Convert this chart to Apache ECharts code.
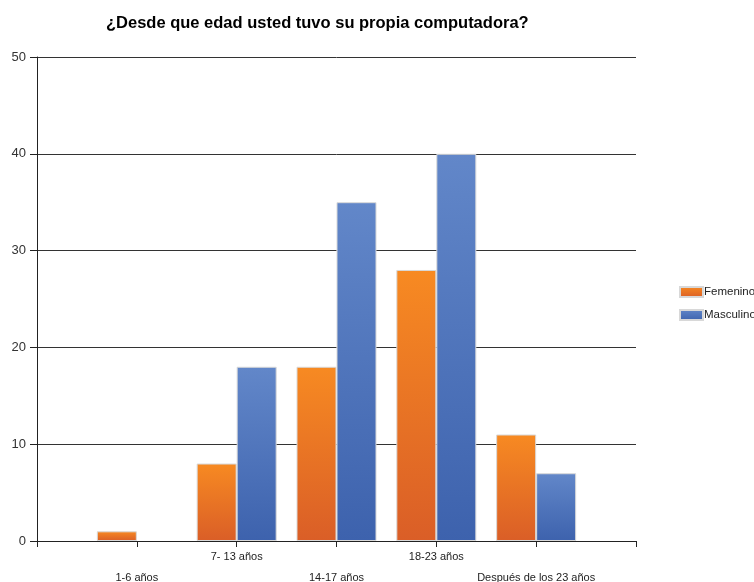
<!DOCTYPE html>
<html>
<head>
<meta charset="utf-8">
<script src="https://cdn.jsdelivr.net/npm/echarts@6/dist/echarts.min.js"></script>
<style>
  html, body { margin: 0; padding: 0; background: #fff; }
  #chart { width: 754px; height: 582px; }
</style>
</head>
<body>
<div id="chart"></div>
<script>
// Age groups; empty slots at both ends keep the groups off the axis edges
const categories = ['', '1-6 años', '7- 13 años', '14-17 años', '18-23 años', 'Después de los 23 años', ''];
const femenino = [null, 1, 8, 18, 28, 11, null];
const masculino = [null, 0, 18, 35, 40, 7, null];
const yTicks = [0, 10, 20, 30, 40, 50];

const orange = new echarts.graphic.LinearGradient(0, 0, 0, 1, [
  { offset: 0, color: '#F78A22' },
  { offset: 1, color: '#DA5E27' }
]);
const blue = new echarts.graphic.LinearGradient(0, 0, 0, 1, [
  { offset: 0, color: '#6287C9' },
  { offset: 1, color: '#3D62AD' }
]);

// zero-height bars get no outline
function barData(values) {
  return values.map(function (v) {
    return v === 0 ? { value: 0, itemStyle: { borderWidth: 0 } } : v;
  });
}

const chart = echarts.init(document.getElementById('chart'));
chart.setOption({
  animation: false,
  backgroundColor: '#fff',
  title: {
    text: '¿Desde que edad usted tuvo su propia computadora?',
    left: 101,
    top: 10,
    textStyle: { fontFamily: 'Liberation Sans, Arial', fontSize: 16.5, fontWeight: 'bold', color: '#000' }
  },
  legend: {
    orient: 'vertical',
    left: 674,
    top: 281,
    itemWidth: 23,
    itemHeight: 10,
    itemGap: 11,
    icon: 'rect',
    textStyle: { fontFamily: 'Liberation Sans, Arial', fontSize: 11.5, color: '#222', padding: [0, 0, 0, -4] },
    data: ['Femenino', 'Masculino']
  },
  grid: { left: 37, right: 118, top: 57, bottom: 41, outerBoundsMode: 'none', containLabel: false },
  xAxis: {
    type: 'category',
    data: categories,
    boundaryGap: false,
    axisLine: { lineStyle: { color: '#222', width: 1 } },
    axisTick: { show: true, length: 6, lineStyle: { color: '#222' } },
    axisLabel: {
      interval: 0,
      fontFamily: 'Liberation Sans, Arial',
      fontSize: 11,
      color: '#222',
      margin: 5,
      lineHeight: 21,
      formatter: function (v, i) { return i % 2 === 1 ? '\n' + v : v; }
    },
    splitLine: { show: false }
  },
  yAxis: {
    type: 'value',
    min: yTicks[0],
    max: yTicks[yTicks.length - 1],
    interval: 10,
    axisLine: { show: true, lineStyle: { color: '#222', width: 1 } },
    axisTick: { show: true, length: 7, lineStyle: { color: '#222' } },
    axisLabel: { fontFamily: 'Liberation Sans, Arial', fontSize: 13, color: '#333', margin: 11 },
    splitLine: { show: true, lineStyle: { color: '#333', width: 1 } }
  },
  series: [
    {
      name: 'Femenino',
      type: 'bar',
      data: barData(femenino),
      barWidth: 40,
      barGap: '0%',
      itemStyle: { color: orange, borderColor: '#d8d8d8', borderWidth: 1 }
    },
    {
      name: 'Masculino',
      type: 'bar',
      data: barData(masculino),
      barWidth: 40,
      barGap: '0%',
      itemStyle: { color: blue, borderColor: '#d8d8d8', borderWidth: 1 }
    }
  ]
});
</script>
</body>
</html>
